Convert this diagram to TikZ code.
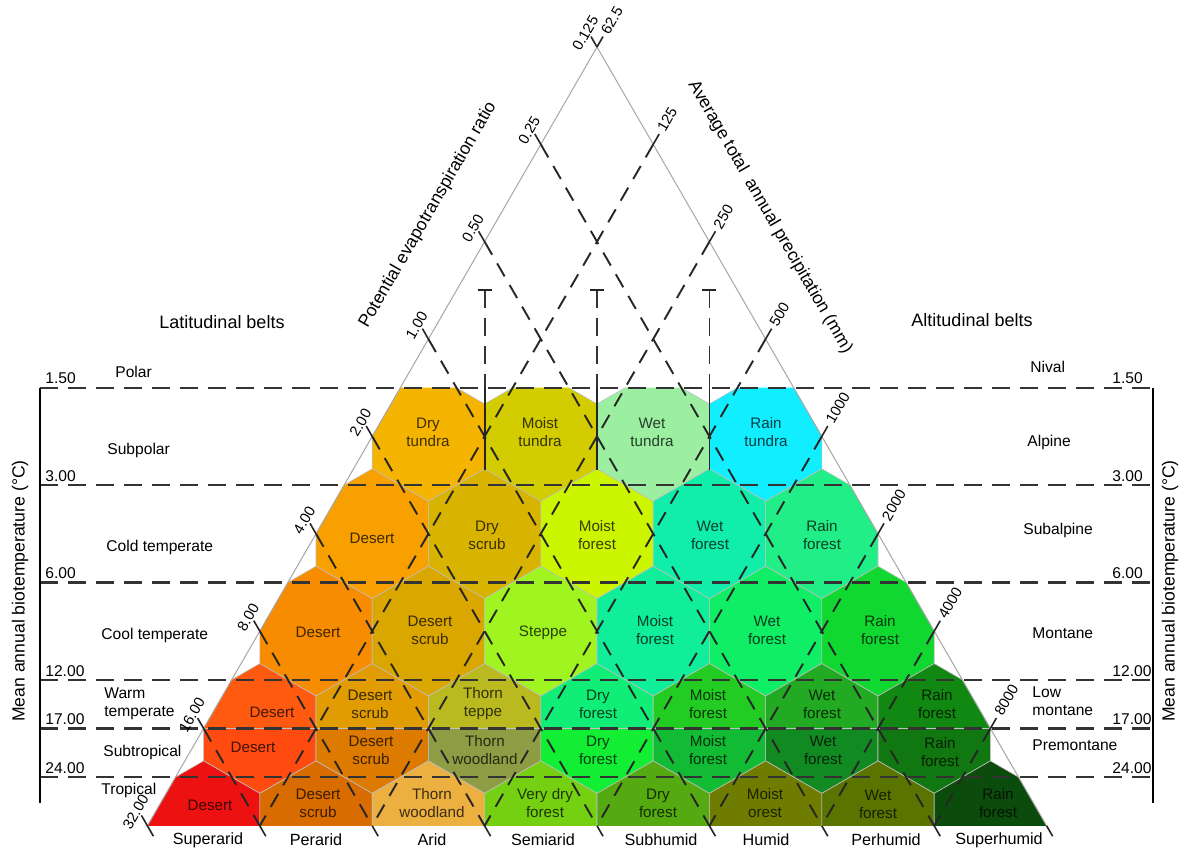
\documentclass[tikz,border=0pt]{standalone}
\usepackage{fontspec}
\setmainfont{Liberation Sans}
\usetikzlibrary{calc}

% zone colours, one row of hexagons per line
\definecolor{tunDry}{HTML}{F5B400}
\definecolor{tunMoist}{HTML}{D2CC00}
\definecolor{tunWet}{HTML}{9CEFA0}
\definecolor{tunRain}{HTML}{10EEFF}
\definecolor{sbDesert}{HTML}{F7A000}
\definecolor{sbScrub}{HTML}{D8B400}
\definecolor{sbMoist}{HTML}{CCF500}
\definecolor{sbWet}{HTML}{10EEAA}
\definecolor{sbRain}{HTML}{22EE88}
\definecolor{ctDesert}{HTML}{F78C00}
\definecolor{ctScrub}{HTML}{DAA600}
\definecolor{ctSteppe}{HTML}{A0F520}
\definecolor{ctMoist}{HTML}{10EE99}
\definecolor{ctWet}{HTML}{10EE66}
\definecolor{ctRain}{HTML}{10D830}
\definecolor{wtDesert}{HTML}{FF5A10}
\definecolor{wtScrub}{HTML}{E09C00}
\definecolor{wtThorn}{HTML}{BABA20}
\definecolor{wtDry}{HTML}{10EE77}
\definecolor{wtMoist}{HTML}{22CC22}
\definecolor{wtWet}{HTML}{22AA22}
\definecolor{wtRain}{HTML}{118811}
\definecolor{stDesert}{HTML}{FF4A10}
\definecolor{stScrub}{HTML}{DD7A00}
\definecolor{stThorn}{HTML}{8E9C44}
\definecolor{stDry}{HTML}{11EE33}
\definecolor{stMoist}{HTML}{11BB33}
\definecolor{stWet}{HTML}{118A22}
\definecolor{stRain}{HTML}{117711}
\definecolor{trDesert}{HTML}{EE1111}
\definecolor{trScrub}{HTML}{D96C00}
\definecolor{trThorn}{HTML}{EBB040}
\definecolor{trVdry}{HTML}{74D011}
\definecolor{trDry}{HTML}{55AA11}
\definecolor{trMoist}{HTML}{6E7D00}
\definecolor{trWet}{HTML}{5A7400}
\definecolor{trRain}{HTML}{0B4B0B}

% hexagon (centre x, centre y, colour) and its two halves
\newcommand{\hexa}[3]{\path[fill=#3,hexedge] ({#1},{#2-64.9}) -- ++(56.2,32.45) -- ++(0,64.9)
  -- ++(-56.2,32.45) -- ++(-56.2,-32.45) -- ++(0,-64.9) -- cycle;}
\newcommand{\hexup}[3]{\path[fill=#3,hexedge] ({#1-56.2},{#2}) -- ++(0,-32.45) -- ++(56.2,-32.45)
  -- ++(56.2,32.45) -- ++(0,32.45) -- cycle;}
\newcommand{\hexdown}[3]{\path[fill=#3,hexedge] ({#1-56.2},{#2}) -- ++(0,32.45) -- ++(56.2,32.45)
  -- ++(56.2,-32.45) -- ++(0,-32.45) -- cycle;}

\begin{document}
\begin{tikzpicture}[x=.5pt,y=-.5pt,
    hexedge/.style={draw=black!25,line width=.3pt},
    zone/.style={align=center,font=\fontsize{7.6}{9}\selectfont,text=black,text opacity=.74,inner sep=0pt},
    belt/.style={font=\fontsize{7.8}{9.2}\selectfont,align=left,anchor=west,inner sep=0pt},
    head/.style={font=\fontsize{9}{11}\selectfont},
    axtitle/.style={font=\fontsize{8.8}{10}\selectfont,inner sep=0pt},
    ticklab/.style={font=\fontsize{7.4}{9}\selectfont,rotate=60,inner sep=.5pt},
    numlab/.style={font=\fontsize{7.8}{9}\selectfont,anchor=base west,inner sep=0pt},
    province/.style={font=\fontsize{8.1}{10}\selectfont,inner sep=0pt},
    tline/.style={dash pattern=on 9pt off 5pt,line width=1.1pt,black!80},
    pline/.style={dash pattern=on 7.5pt off 5pt,line width=.95pt,black!85},
    tickline/.style={line width=.8pt,black!85},
    triside/.style={gray!70,line width=.5pt}]
  \useasboundingbox (0,0) rectangle (1181,850);

  % lattice points on the two sides and the base
  \foreach \k in {0,...,8} {
    \coordinate (L\k) at ({597-56.2*\k},{47+97.35*\k});
    \coordinate (R\k) at ({597+56.2*\k},{47+97.35*\k});
    \coordinate (B\k) at ({147.4+112.4*\k},825.8);
  }

  % hexagons
  \begin{scope}
    \clip ($(L3)!.5!(L4)$) -- ($(R3)!.5!(R4)$) -- (R8) -- (L8) -- cycle;
    \foreach \c [count=\j from 0] in {tunDry,tunMoist,tunWet,tunRain}
      \hexa{597+(\j-1.5)*112.4}{436.4}{\c};
    \foreach \c [count=\j from 0] in {sbDesert,sbScrub,sbMoist,sbWet,sbRain}
      \hexa{597+(\j-2)*112.4}{533.75}{\c};
    \foreach \c [count=\j from 0] in {ctDesert,ctScrub,ctSteppe,ctMoist,ctWet,ctRain}
      \hexa{597+(\j-2.5)*112.4}{631.1}{\c};
    \foreach \c [count=\j from 0] in {wtDesert,wtScrub,wtThorn,wtDry,wtMoist,wtWet,wtRain}
      \hexup{597+(\j-3)*112.4}{728.45}{\c};
    \foreach \c [count=\j from 0] in {stDesert,stScrub,stThorn,stDry,stMoist,stWet,stRain}
      \hexdown{597+(\j-3)*112.4}{728.45}{\c};
    \foreach \c [count=\j from 0] in {trDesert,trScrub,trThorn,trVdry,trDry,trMoist,trWet,trRain}
      \hexa{597+(\j-3.5)*112.4}{825.8}{\c};
  \end{scope}

  % triangle
  \draw[triside] (L8) -- (L0) -- (R8);

  % guide lines
  \foreach \k [evaluate=\k as \m using int(8-\k)] in {1,...,7} {
    \draw[pline] (L\k) -- (B\m);
    \draw[pline] (R\k) -- (B\k);
  }
  \foreach \k in {0,...,8} {
    \draw[tickline] (L\k) -- ++(-6,-10.4);
    \draw[tickline] (B\k) -- ++(6,10.4);
  }
  \foreach \k in {0,...,7}
    \draw[tickline] (R\k) -- ++(6,-10.4);

  % vertical markers
  \foreach \x in {484.6,597,709.4} {
    \draw[dash pattern=on 9pt off 5pt,line width=.9pt,black!80] (\x,290) -- (\x,387.7);
    \draw[line width=.9pt,black!85] (\x,387.7) -- (\x,469.5);
    \draw[line width=.9pt,black!85] (\x-7,290) -- (\x+7,290);
  }

  % temperature lines and axes
  \foreach \y in {387.7,485.1,582.4,679.8,728.5,777.1}
    \draw[tline] (40,\y) -- (1153,\y);
  \draw[line width=1.2pt] (40,387.7) -- (40,803);
  \draw[line width=1.2pt] (1153,387.7) -- (1153,803);

  \foreach \y/\t in {383/1.50,481/3.00,578/6.00,676/12.00,724/17.00,773/24.00} {
    \node[numlab] (tl\t) at (45,\y) {\t};
    \node[numlab] (tr\t) at (1112,\y) {\t};
  }

  % side scales
  \foreach \k/\t in {0/0.125,1/0.25,2/0.50,3/1.00,4/2.00,5/4.00,6/8.00,7/16.00,8/32.00}
    \node[ticklab,anchor=south] (pet\k) at ($(L\k)+(-6,-10.4)$) {\t};
  \foreach \k/\t in {0/62.5,1/125,2/250,3/500,4/1000,5/2000,6/4000,7/8000}
    \node[ticklab,anchor=west] (pre\k) at ($(R\k)+(7,-13)$) {\t};

  \node[axtitle,rotate=60] (petname) at (428,215) {Potential evapotranspiration ratio};
  \node[axtitle,rotate=-60] (prename) at (770,217) {Average total\ \ annual precipitation (mm)};
  \node[axtitle,rotate=90] (tleft) at (20,591) {Mean annual biotemperature (°C)};
  \node[axtitle,rotate=90] (tright) at (1170,591) {Mean annual biotemperature (°C)};

  % belts
  \node[head] (lat) at (222,322) {Latitudinal belts};
  \node[head] (alt) at (972,320) {Altitudinal belts};
  \foreach \x/\y/\t [count=\i] in {115/372/Polar,107/450/Subpolar,106/547/Cold temperate,
      101/635/Cool temperate,104/704/Warm\\temperate,103/752/Subtropical,101/790/Tropical,
      1030/367/Nival,1027/442/Alpine,1023/530/Subalpine,1032/633/Montane,
      1032/701/Low\\montane,1032/745/Premontane}
    \node[belt] (belt\i) at (\x,\y) {\t};

  % humidity provinces
  \foreach \x/\t [count=\i] in {208/Superarid,316/Perarid,432/Arid,543/Semiarid,
      661/Subhumid,766/Humid,886/Perhumid,999/Superhumid}
    \node[province] (prov\i) at (\x,840) {\t};

  % zone names
  \foreach \x/\y/\t [count=\i] in {428/432/Dry\\tundra,540/432/Moist\\tundra,652/432/Wet\\tundra,
      766/432/Rain\\tundra,
      372/538/Desert,487/535/Dry\\scrub,597/535/Moist\\forest,710/535/Wet\\forest,822/535/Rain\\forest,
      318/632/Desert,430/630/Desert\\scrub,543/633/Steppe,655/630/Moist\\forest,767/630/Wet\\forest,
      880/630/Rain\\forest,
      272/712/Desert,370/704/Desert\\scrub,483/704/Thorn\\teppe,598/704/Dry\\forest,
      708/704/Moist\\forest,822/704/Wet\\forest,937/704/Rain\\forest,
      253/747/Desert,371/750/Desert\\scrub,485/750/Thorn\\woodland,598/750/Dry\\forest,
      708/750/Moist\\forest,823/750/Wet\\forest,940/752/Rain\\forest,
      210/805/Desert,318/803/Desert\\scrub,432/803/Thorn\\woodland,545/803/Very dry\\forest,
      658/803/Dry\\forest,765/803/Moist\\orest,878/804/Wet\\forest,998/803/Rain\\forest}
    \node[zone] (zone\i) at (\x,\y) {\t};
\end{tikzpicture}
\end{document}
